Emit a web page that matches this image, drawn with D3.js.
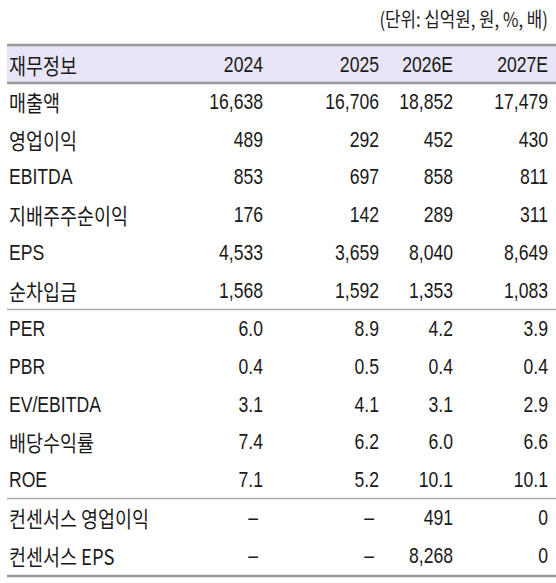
<!DOCTYPE html>
<html><head><meta charset="utf-8">
<script src="https://cdn.jsdelivr.net/npm/d3@7"></script>
<style>body{margin:0;background:#fff}</style>
</head><body><div id="chart"></div>
<script>
const columns = ['2024', '2025', '2026E', '2027E']
const rowLabels = ['매출액', '영업이익', 'EBITDA', '지배주주순이익', 'EPS', '순차입금',
  'PER', 'PBR', 'EV/EBITDA', '배당수익률', 'ROE', '컨센서스 영업이익', '컨센서스 EPS']
const values = [
  ['16,638', '16,706', '18,852', '17,479'],
  ['489', '292', '452', '430'],
  ['853', '697', '858', '811'],
  ['176', '142', '289', '311'],
  ['4,533', '3,659', '8,040', '8,649'],
  ['1,568', '1,592', '1,353', '1,083'],
  ['6.0', '8.9', '4.2', '3.9'],
  ['0.4', '0.5', '0.4', '0.4'],
  ['3.1', '4.1', '3.1', '2.9'],
  ['7.4', '6.2', '6.0', '6.6'],
  ['7.1', '5.2', '10.1', '10.1'],
  ['–', '–', '491', '0'],
  ['–', '–', '8,268', '0']
]
const groupBreaks = [6, 11]

const W = 556, H = 583
const font = '"Noto Sans CJK KR", "Liberation Sans", sans-serif'
const numFont = '"Liberation Sans", "Noto Sans CJK KR", sans-serif'
const svg = d3.select('#chart').append('svg').attr('width', W).attr('height', H)

const colRight = d3.scaleOrdinal().domain(columns).range([263, 379, 453, 548])
const rowY = d3.scaleLinear().domain([0, 1]).range([101, 138.8])
const left = 7, right = 556

function cond(sel, x, k) {
  sel.attr('transform', `translate(${x},0) scale(${k},1) translate(${-x},0)`)
}

svg.append('text').attr('x', 548).attr('y', 27).attr('text-anchor', 'end')
  .attr('font-family', font).attr('font-size', 20).attr('fill', '#222')
  .call(cond, 548, 0.84)
  .text('(단위: 십억원, 원, %, 배)')

svg.append('rect').attr('x', left).attr('y', 45).attr('width', right - left).attr('height', 38).attr('fill', '#e7e5f6')
svg.append('line').attr('x1', left).attr('x2', right).attr('y1', 45).attr('y2', 45).attr('stroke', '#9a9a9a').attr('stroke-width', 2.5)
svg.append('line').attr('x1', left).attr('x2', right).attr('y1', 83).attr('y2', 83).attr('stroke', '#9a9a9a').attr('stroke-width', 2.5)

const txt = (x, y, s, anchor, f, k) => svg.append('text').attr('x', x).attr('y', y)
  .attr('text-anchor', anchor).attr('dominant-baseline', 'central')
  .attr('font-family', f).attr('font-size', 22).attr('fill', '#1a1a1a').text(s)
  .call(cond, x, k)

txt(9, 64, '재무정보', 'start', font, 0.84)
columns.forEach(c => txt(colRight(c), 64, c, 'end', numFont, 0.8))

rowLabels.forEach((lab, i) => {
  const y = rowY(i) + (i >= 6 ? 0.5 : 0)
  txt(9, y, lab, 'start', /^[A-Z]/.test(lab) ? numFont : font, /^[A-Z]/.test(lab) ? 0.8 : 0.84)
  values[i].forEach((v, j) => txt(colRight(columns[j]) - (v === '–' ? 5 : 0), y, v, 'end', numFont, 0.8))
})

groupBreaks.forEach(b => {
  const y = rowY(b - 0.5) + 0.5
  svg.append('line').attr('x1', left).attr('x2', right).attr('y1', y).attr('y2', y).attr('stroke', '#aaa').attr('stroke-width', 1.5)
})
svg.append('line').attr('x1', left).attr('x2', right).attr('y1', 576).attr('y2', 576).attr('stroke', '#9a9a9a').attr('stroke-width', 2.5)
</script></body></html>
